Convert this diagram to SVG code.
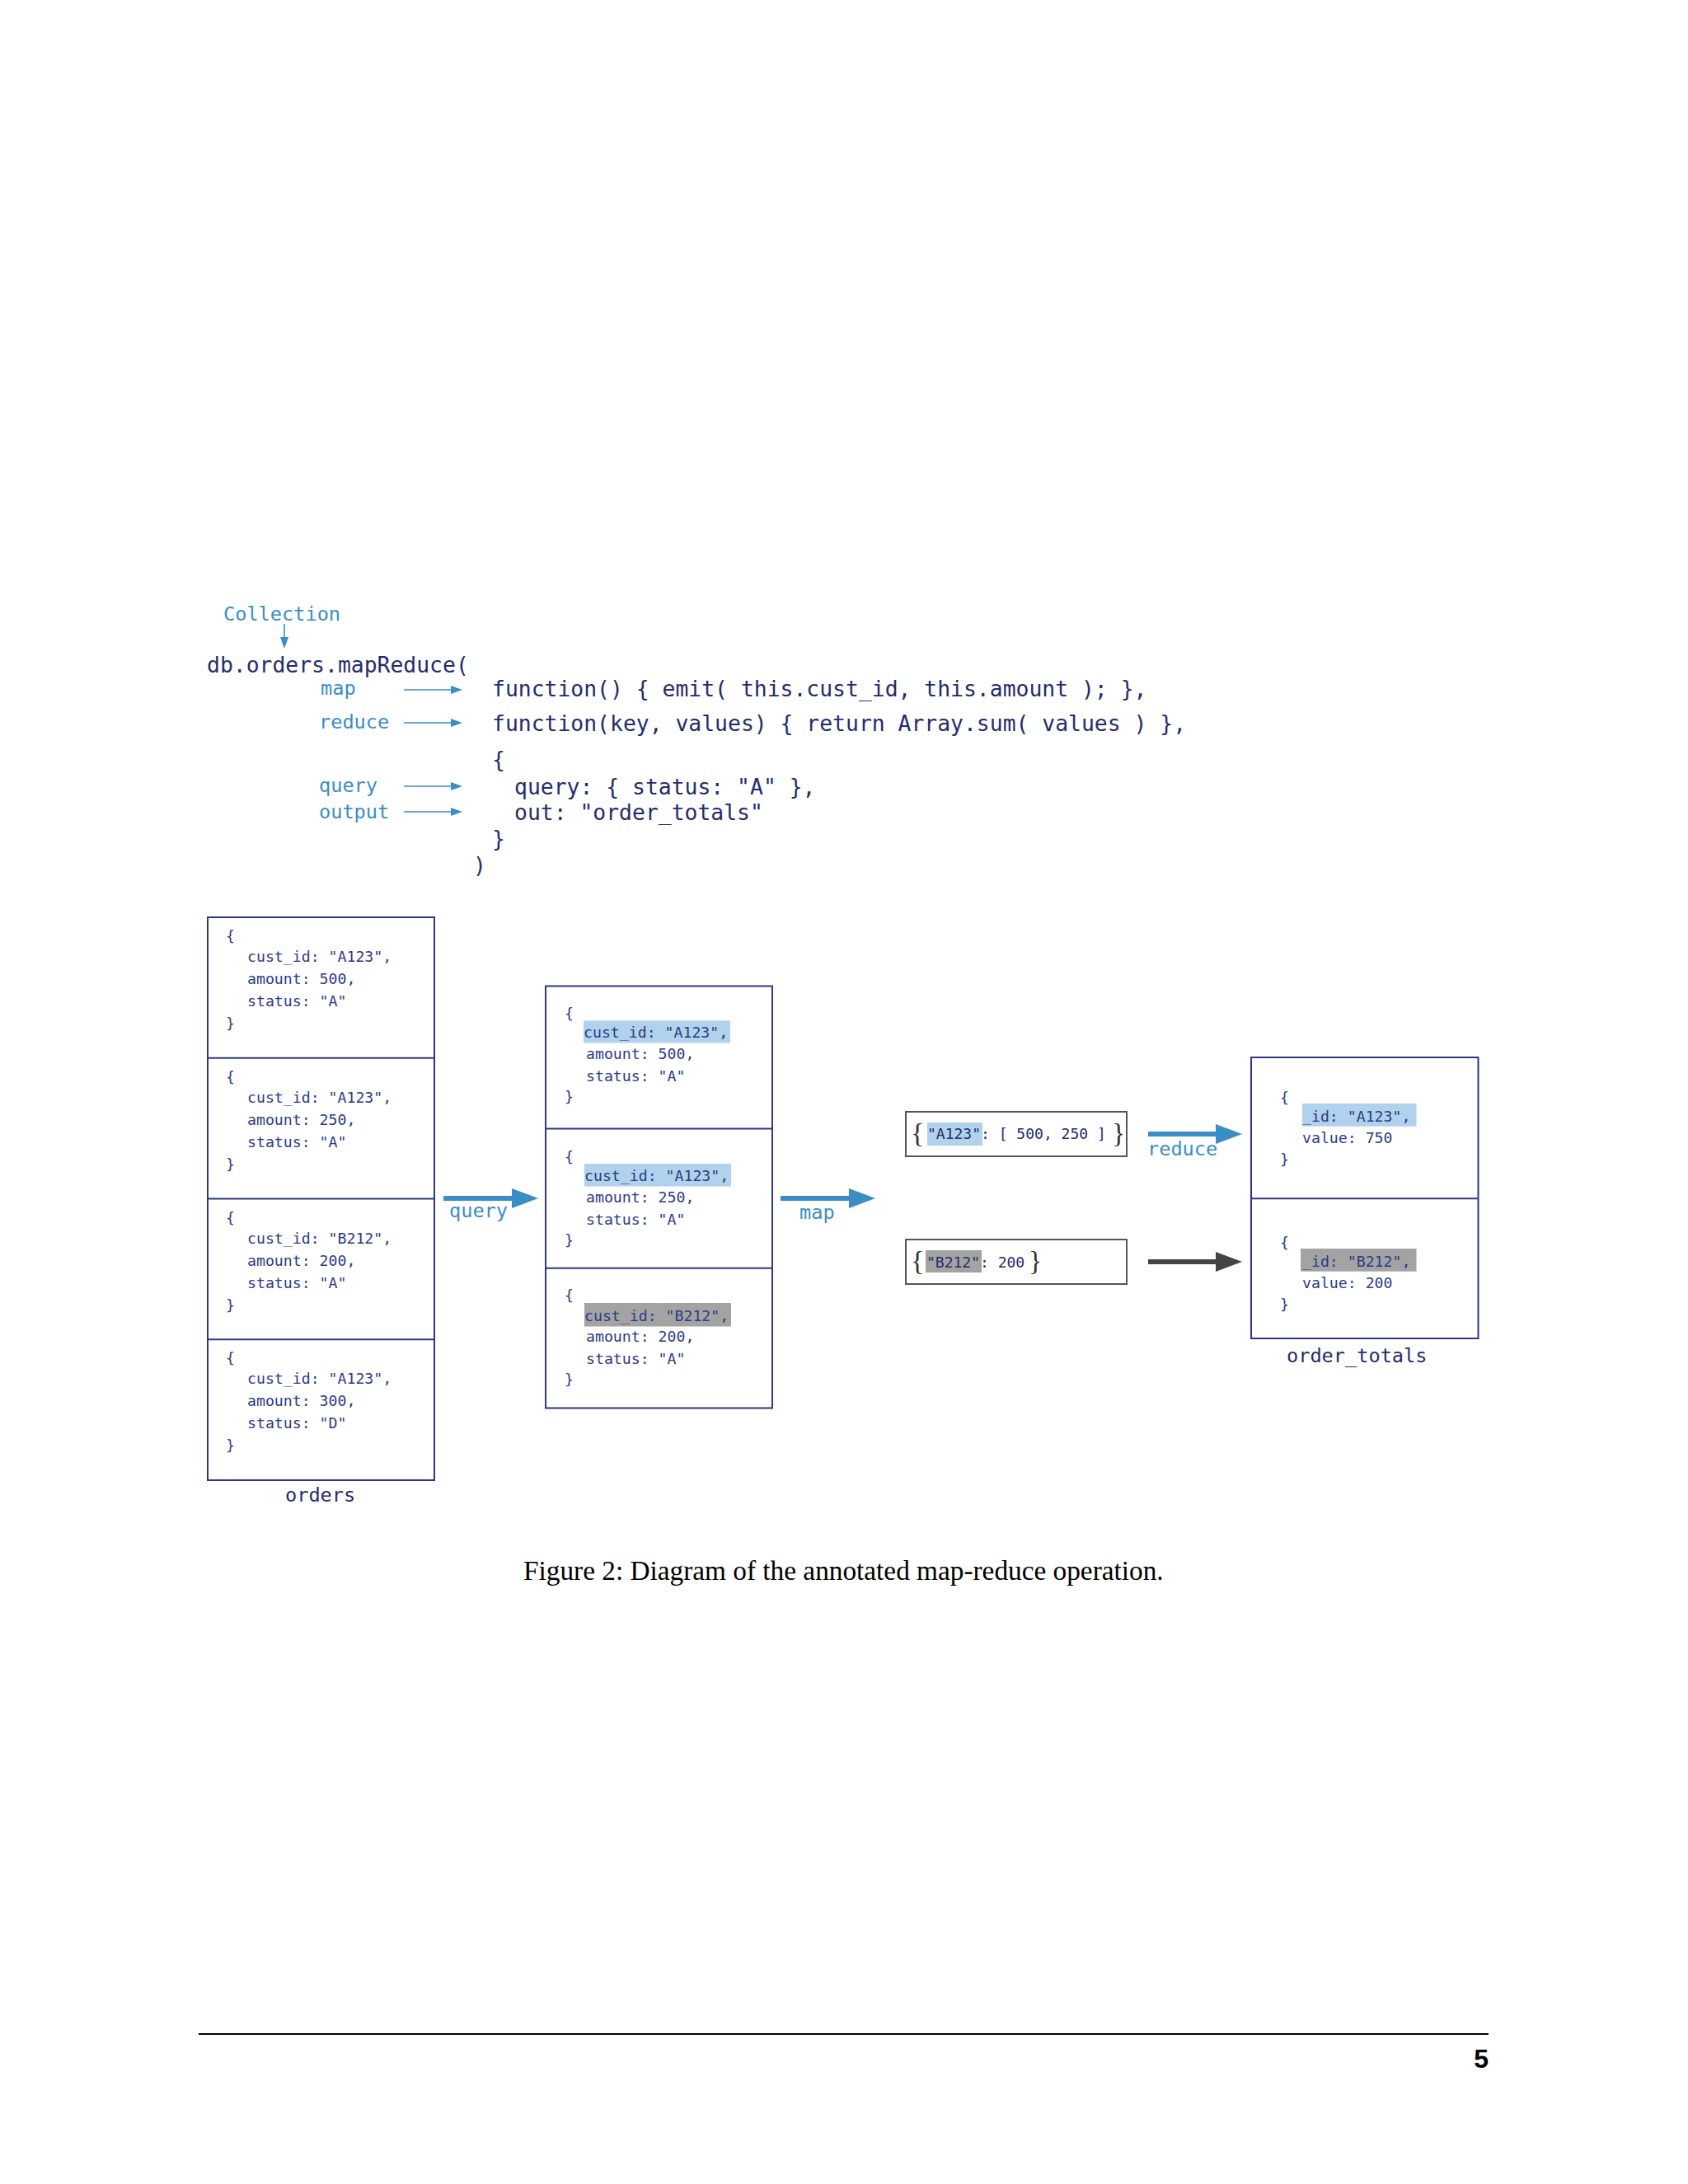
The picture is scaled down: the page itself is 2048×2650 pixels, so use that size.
<svg xmlns="http://www.w3.org/2000/svg" width="2048" height="2650" viewBox="0 0 2048 2650">
<defs>
<style>
.mono{font-family:"DejaVu Sans Mono","Liberation Mono",monospace}
.lbl{font-family:"DejaVu Sans Mono","Liberation Mono",monospace;font-size:23.6px;fill:#3a8dc5}
.code{font-family:"DejaVu Sans Mono","Liberation Mono",monospace;font-size:26.4px;fill:#252c6c}
.doc{font-family:"DejaVu Sans Mono","Liberation Mono",monospace;font-size:18.2px;fill:#2e3a86}
.name{font-family:"DejaVu Sans Mono","Liberation Mono",monospace;font-size:23.6px;fill:#252c6c}
.box{fill:none;stroke:#2e3685;stroke-width:2}
.ebox{fill:#ffffff;stroke:#555555;stroke-width:2}
.hb{fill:#b0d2ec}
.hg{fill:#a3a3a3}
.brace{font-family:"Liberation Serif",serif;font-size:34px;fill:#333333}
.thin{stroke:#3a8dc5;stroke-width:1.6;fill:none}
.thickb{stroke:#3a8dc5;stroke-width:6;fill:none}
.thickg{stroke:#444444;stroke-width:6;fill:none}
</style>
<marker id="ahThin" markerUnits="userSpaceOnUse" markerWidth="14" markerHeight="10" refX="2" refY="5" orient="auto"><path d="M0,0 L14,5 L0,10 z" fill="#3a8dc5"/></marker>
<marker id="ahBlue" markerUnits="userSpaceOnUse" markerWidth="32" markerHeight="24" refX="2" refY="12" orient="auto"><path d="M0,0 L32,12 L0,24 z" fill="#3a8dc5"/></marker>
<marker id="ahGray" markerUnits="userSpaceOnUse" markerWidth="32" markerHeight="24" refX="2" refY="12" orient="auto"><path d="M0,0 L32,12 L0,24 z" fill="#444444"/></marker>
</defs>
<rect x="0" y="0" width="2048" height="2650" fill="#ffffff"/>

<g id="collection-label">
<text class="lbl" x="271" y="753">Collection</text>
</g>

<g id="code">
<text class="code" x="251" y="816">db.orders.mapReduce(</text>
<text class="code" x="597" y="845">function() { emit( this.cust_id, this.amount ); },</text>
<text class="code" x="597" y="887">function(key, values) { return Array.sum( values ) },</text>
<text class="code" x="597" y="931">{</text>
<text class="code" x="624" y="964">query: { status: "A" },</text>
<text class="code" x="624" y="995">out: "order_totals"</text>
<text class="code" x="597" y="1027">}</text>
<text class="code" x="574" y="1059">)</text>
</g>

<g id="annotation-labels">
<text class="lbl" x="389" y="843">map</text>
<text class="lbl" x="387" y="884">reduce</text>
<text class="lbl" x="387" y="961">query</text>
<text class="lbl" x="387" y="993">output</text>
</g>

<g id="orders">
<rect class="box" x="252" y="1113" width="275" height="683"/>
<line class="box" x1="252" y1="1283.75" x2="527" y2="1283.75"/>
<line class="box" x1="252" y1="1454.5" x2="527" y2="1454.5"/>
<line class="box" x1="252" y1="1625.25" x2="527" y2="1625.25"/>
<g id="orders-doc1">
<text class="doc" x="274" y="1142">{</text>
<text class="doc" x="300" y="1167">cust_id: "A123",</text>
<text class="doc" x="300" y="1194">amount: 500,</text>
<text class="doc" x="300" y="1221">status: "A"</text>
<text class="doc" x="274" y="1248">}</text>
</g>
<g id="orders-doc2">
<text class="doc" x="274" y="1313">{</text>
<text class="doc" x="300" y="1338">cust_id: "A123",</text>
<text class="doc" x="300" y="1365">amount: 250,</text>
<text class="doc" x="300" y="1392">status: "A"</text>
<text class="doc" x="274" y="1419">}</text>
</g>
<g id="orders-doc3">
<text class="doc" x="274" y="1484">{</text>
<text class="doc" x="300" y="1509">cust_id: "B212",</text>
<text class="doc" x="300" y="1536">amount: 200,</text>
<text class="doc" x="300" y="1563">status: "A"</text>
<text class="doc" x="274" y="1590">}</text>
</g>
<g id="orders-doc4">
<text class="doc" x="274" y="1654">{</text>
<text class="doc" x="300" y="1679">cust_id: "A123",</text>
<text class="doc" x="300" y="1706">amount: 300,</text>
<text class="doc" x="300" y="1733">status: "D"</text>
<text class="doc" x="274" y="1760">}</text>
</g>
<text class="name" x="346" y="1822">orders</text>
</g>

<g id="query-result">
<rect class="box" x="662" y="1196.5" width="275" height="512"/>
<line class="box" x1="662" y1="1369.4" x2="937" y2="1369.4"/>
<line class="box" x1="662" y1="1538.8" x2="937" y2="1538.8"/>
<g id="qr-doc1">
<rect class="hb" x="708" y="1238.5" width="178" height="27"/>
<text class="doc" x="685" y="1236">{</text>
<text class="doc" x="708" y="1259">cust_id: "A123",</text>
<text class="doc" x="711" y="1285">amount: 500,</text>
<text class="doc" x="711" y="1312">status: "A"</text>
<text class="doc" x="685" y="1337">}</text>
</g>
<g id="qr-doc2">
<rect class="hb" x="709" y="1412" width="178" height="27.5"/>
<text class="doc" x="685" y="1409.5">{</text>
<text class="doc" x="709" y="1433">cust_id: "A123",</text>
<text class="doc" x="711" y="1459">amount: 250,</text>
<text class="doc" x="711" y="1486">status: "A"</text>
<text class="doc" x="685" y="1511">}</text>
</g>
<g id="qr-doc3">
<rect class="hg" x="709" y="1581" width="178" height="28.5"/>
<text class="doc" x="685" y="1578">{</text>
<text class="doc" x="709" y="1603">cust_id: "B212",</text>
<text class="doc" x="711" y="1628">amount: 200,</text>
<text class="doc" x="711" y="1655">status: "A"</text>
<text class="doc" x="685" y="1680">}</text>
</g>
</g>

<g id="emit-a123">
<rect class="ebox" x="1099" y="1349" width="268" height="54"/>
<rect class="hb" x="1125" y="1362" width="67" height="28"/>
<text class="brace" x="1105" y="1386">{</text>
<text class="doc" x="1125" y="1382" style="font-size:18px;fill:#252c6c">"A123": [ 500, 250 ]</text>
<text class="brace" x="1349" y="1386">}</text>
</g>

<g id="emit-b212">
<rect class="ebox" x="1099" y="1504" width="268" height="54"/>
<rect class="hg" x="1123" y="1517" width="68" height="27"/>
<text class="brace" x="1105" y="1541">{</text>
<text class="doc" x="1124" y="1538" style="font-size:18px;fill:#252c6c">"B212": 200</text>
<text class="brace" x="1248" y="1541">}</text>
</g>

<g id="order-totals">
<rect class="box" x="1518" y="1283" width="275.5" height="341"/>
<line class="box" x1="1518" y1="1454.3" x2="1793.5" y2="1454.3"/>
<g id="ot-doc1">
<rect class="hb" x="1580" y="1339" width="138.5" height="27.7"/>
<text class="doc" x="1553" y="1337.5">{</text>
<text class="doc" x="1580" y="1361">_id: "A123",</text>
<text class="doc" x="1580" y="1386.7">value: 750</text>
<text class="doc" x="1553" y="1412.5">}</text>
</g>
<g id="ot-doc2">
<rect class="hg" x="1578" y="1515" width="140.5" height="27.7"/>
<text class="doc" x="1553" y="1514">{</text>
<text class="doc" x="1580" y="1537">_id: "B212",</text>
<text class="doc" x="1580" y="1562.7">value: 200</text>
<text class="doc" x="1553" y="1588.5">}</text>
</g>
<text class="name" x="1561" y="1653">order_totals</text>
</g>

<g id="connectors">
<line class="thin" x1="345" y1="757" x2="345" y2="775" marker-end="url(#ahThin)"/>
<line class="thin" x1="490" y1="837" x2="549" y2="837" marker-end="url(#ahThin)"/>
<line class="thin" x1="490" y1="877" x2="549" y2="877" marker-end="url(#ahThin)"/>
<line class="thin" x1="490" y1="954" x2="549" y2="954" marker-end="url(#ahThin)"/>
<line class="thin" x1="490" y1="985" x2="549" y2="985" marker-end="url(#ahThin)"/>
<line class="thickb" x1="538" y1="1454" x2="623" y2="1454" marker-end="url(#ahBlue)"/>
<line class="thickb" x1="947" y1="1454" x2="1032" y2="1454" marker-end="url(#ahBlue)"/>
<line class="thickb" x1="1393" y1="1376" x2="1477" y2="1376" marker-end="url(#ahBlue)"/>
<line class="thickg" x1="1393" y1="1531" x2="1477" y2="1531" marker-end="url(#ahGray)"/>
</g>

<g id="arrow-labels">
<text class="lbl" x="545" y="1477">query</text>
<text class="lbl" x="970" y="1479">map</text>
<text class="lbl" x="1392" y="1402">reduce</text>
</g>

<g id="caption">
<text x="635" y="1917" style="font-family:'Liberation Serif','Times New Roman',serif;font-size:33.3px;fill:#000000">Figure 2: Diagram of the annotated map-reduce operation.</text>
</g>

<g id="footer">
<line x1="241" y1="2468" x2="1806" y2="2468" stroke="#000000" stroke-width="2"/>
<text x="1806" y="2509" text-anchor="end" style="font-family:'Liberation Sans',Arial,sans-serif;font-size:32px;font-weight:bold;fill:#000000">5</text>
</g>
</svg>
